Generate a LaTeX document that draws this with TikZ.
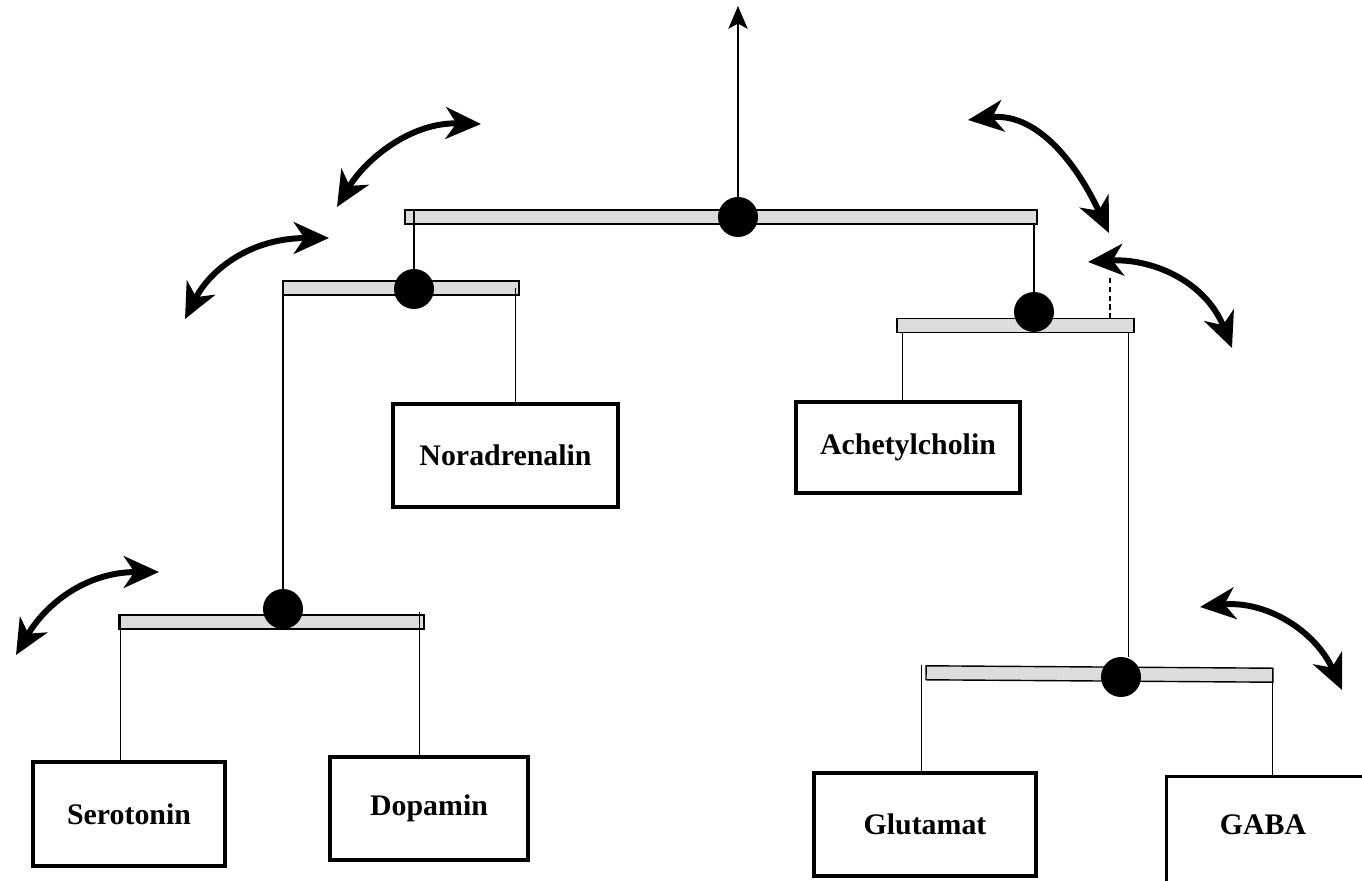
\documentclass[tikz,border=0pt]{standalone}
\usepackage{fontspec}
\setmainfont{Liberation Serif}
\usetikzlibrary{arrows.meta,positioning,calc}
\definecolor{BarGray}{HTML}{DCDCDC}
\tikzset{
 box/.style={draw, line width=1.8pt, inner sep=0pt, font=\fontsize{17}{20}\selectfont\bfseries},
 boxtext/.style={inner sep=0pt, font=\fontsize{17}{20}\selectfont\bfseries},
 bar/.style={draw, line width=0.8pt, fill=BarGray, minimum height=0.28cm, inner sep=0pt},
 pivot/.style={circle, fill=black, minimum size=0.8cm, inner sep=0pt},
 wire/.style={line width=0.8pt},
 swing/.style={line width=3.4pt, {Stealth[length=20pt,width=18pt,inset=6pt]}-{Stealth[length=20pt,width=18pt,inset=6pt]}},
 uparrow/.style={line width=0.9pt, -{Stealth[length=13pt,width=11pt,inset=3pt]}}
}

\begin{document}
\begin{tikzpicture}[x=0.02cm,y=-0.02cm]
\useasboundingbox (0,0) rectangle (1362,881);
% balance bars
\node[bar,minimum width=12.64cm] (bar0) at (721,217) {};
\node[bar,minimum width=4.72cm] (bar1) at (401,288) {};
\node[bar,minimum width=4.74cm] (bar2) at (1015.5,325.5) {};
\node[bar,minimum width=6.1cm] (bar3) at (271.5,622) {};
\node[bar,minimum width=6.94cm,rotate=-0.4] (bar4) at (1099.5,674) {};
% transmitter boxes
\node[box,minimum width=3.84cm,minimum height=2.08cm] (ser) at (129,814) {Serotonin};
\node[box,minimum width=3.96cm,minimum height=2.06cm] (dop) at (429,808.5) {Dopamin};
\node[box,minimum width=4.5cm,minimum height=2.06cm] (nor) at (505.5,455.5) {Noradrenalin};
\node[box,minimum width=4.48cm,minimum height=1.82cm] (ach) at (908,447.5) {Achetylcholin};
\node[box,minimum width=4.44cm,minimum height=2.06cm] (glu) at (925,824.5) {Glutamat};
\node[box,anchor=north west,minimum width=4.6cm,minimum height=2.6cm] (gaba) at (1165,775) {};
\node[boxtext] (gabatext) at (1263,825) {GABA};
% pivots
\node[pivot] (p0) at (738,217) {};
\node[pivot] (p1) at (414,289) {};
\node[pivot] (p2) at (1034,312) {};
\node[pivot] (p3) at (283,609) {};
\node[pivot] (p4) at (1121,677) {};
\coordinate (top) at (738,6);
\coordinate (tick) at (1110,278);
% strings
\draw[uparrow] (p0.north) -- (top);
\draw[wire] (p1.north) -- (p1.north |- bar0.north);
\draw[wire] (p2.north) -- (p2.north |- bar0.south);
\draw[wire] (p3.north) -- (p3.north |- bar1.center);
\draw[wire] ([xshift=-0.08cm]bar1.east) -- ([xshift=-0.08cm]bar1.east |- nor.north);
\draw[wire] ([xshift=0.12cm]bar2.south west) -- ([xshift=0.12cm]bar2.south west |- ach.north);
\draw[wire] ([xshift=-0.12cm]bar2.south east) -- ([xshift=-0.12cm]bar2.south east |- p4.north);
\draw[wire,densely dashed] (tick) -- (tick |- bar2.north);
\draw[wire] ([xshift=0.04cm]bar3.north west) -- ([xshift=0.04cm]bar3.north west |- ser.north);
\draw[wire] ([xshift=-0.1cm,yshift=0.04cm]bar3.north east) -- ([xshift=-0.1cm]bar3.north east |- dop.north);
\draw[wire] ([xshift=-0.08cm]bar4.north west) -- ([xshift=-0.08cm]bar4.north west |- glu.north);
\draw[wire] ([xshift=-0.02cm]bar4.north east) -- ([xshift=-0.02cm]bar4.north east |- gaba.north);
% swinging arrows
\draw[swing] (337,207) .. controls (365,160) and (410,122) .. (481,124);
\draw[swing] (185,319) .. controls (210,270) and (250,238) .. (329,238);
\draw[swing] (16,655) .. controls (45,605) and (85,572) .. (159,572);
\draw[swing] (968,120) .. controls (1035,112) and (1075,160) .. (1109,233);
\draw[swing] (1088,262) .. controls (1150,258) and (1205,280) .. (1232,348);
\draw[swing] (1200,607) .. controls (1265,600) and (1315,630) .. (1342,690);
\end{tikzpicture}
\end{document}
